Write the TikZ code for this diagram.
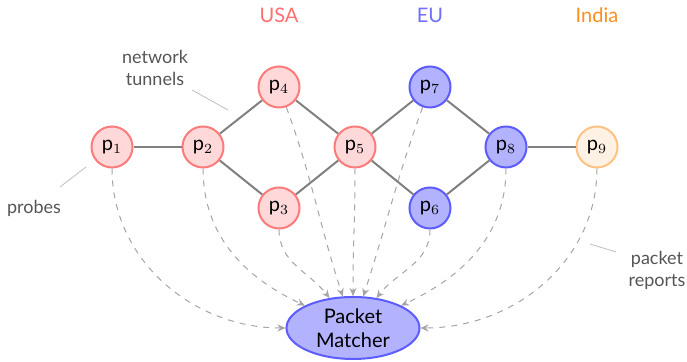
\documentclass[tikz,border=0pt]{standalone}
\usepackage{fontspec}
\setmainfont{Lato}
\usetikzlibrary{shapes.geometric,arrows.meta}
\definecolor{rfill}{RGB}{255,217,217}
\definecolor{rdraw}{RGB}{255,122,122}
\definecolor{bfill}{RGB}{178,178,255}
\definecolor{bdraw}{RGB}{92,92,255}
\definecolor{ofill}{RGB}{255,242,228}
\definecolor{odraw}{RGB}{255,194,130}
\definecolor{usac}{RGB}{255,112,112}
\definecolor{euc}{RGB}{112,112,255}
\definecolor{indc}{RGB}{255,140,30}
\definecolor{notec}{RGB}{85,85,85}
\definecolor{leadc}{RGB}{190,190,190}
\definecolor{edgec}{RGB}{128,128,128}
\definecolor{repc}{RGB}{165,165,165}
\tikzset{
  router/.style={circle,line width=1pt,minimum size=20.5pt,inner sep=0pt,font=\fontsize{10}{12}\selectfont},
  usa/.style={router,fill=rfill,draw=rdraw},
  eu/.style={router,fill=bfill,draw=bdraw},
  ind/.style={router,fill=ofill,draw=odraw},
  region/.style={font=\fontsize{10}{12}\selectfont},
  note/.style={text=notec,align=center,font=\fontsize{9}{11}\selectfont},
  leader/.style={draw=leadc,line width=0.4pt},
  tunnel/.style={draw=edgec,line width=1pt},
  report/.style={draw=repc,line width=0.5pt,dashed,-{Stealth[length=4pt,width=3.5pt]}},
}
\begin{document}
\begin{tikzpicture}[x=0.5pt,y=0.5pt]
\useasboundingbox (0,0) rectangle (687,362);
% region labels
\node[region,text=usac] (lusa) at (279,347) {USA};
\node[region,text=euc] (leu) at (430,347) {EU};
\node[region,text=indc] (lind) at (597,347) {India};
% routers
\node[usa] (p1) at (112,215) {p$_1$};
\node[usa] (p2) at (203,215) {p$_2$};
\node[usa] (p4) at (279,275) {p$_4$};
\node[usa] (p3) at (279,154) {p$_3$};
\node[usa] (p5) at (355,215) {p$_5$};
\node[eu] (p7) at (430,275) {p$_7$};
\node[eu] (p6) at (430,154) {p$_6$};
\node[eu] (p8) at (506,215) {p$_8$};
\node[ind] (p9) at (597,215) {p$_9$};
% packet matcher
\node[ellipse,fill=bfill,draw=bdraw,line width=1pt,minimum width=66.5pt,minimum height=31pt,inner sep=0pt,align=center,font=\fontsize{10}{12}\selectfont] (pm) at (353,34) {Packet\\Matcher};
% tunnels
\draw[tunnel] (p1) -- (p2);
\draw[tunnel] (p2) -- (p4);
\draw[tunnel] (p2) -- (p3);
\draw[tunnel] (p4) -- (p5);
\draw[tunnel] (p3) -- (p5);
\draw[tunnel] (p5) -- (p7);
\draw[tunnel] (p5) -- (p6);
\draw[tunnel] (p7) -- (p8);
\draw[tunnel] (p6) -- (p8);
\draw[tunnel] (p8) -- (p9);
% reports
\draw[report] (p1) to[out=-90,in=180] (pm);
\draw[report] (p2) to[out=-90,in=155] (pm);
\draw[report] (p3) to[out=-90,in=128] (pm);
\draw[report] (p4) to[out=-70,in=108] (pm);
\draw[report] (p5) to[out=-90,in=90] (pm);
\draw[report] (p7) to[out=-110,in=72] (pm);
\draw[report] (p6) to[out=-90,in=52] (pm);
\draw[report] (p8) to[out=-90,in=25] (pm);
\draw[report] (p9) to[out=-90,in=0] (pm);
% annotations
\node[note] (ntun) at (155,294) {network\\tunnels};
\coordinate (ntunA) at (192,272);
\coordinate (ntunB) at (228,252);
\draw[leader] (ntunA) -- (ntunB);
\node[note] (nprobe) at (34,154) {probes};
\coordinate (nprobeA) at (60,175);
\coordinate (nprobeB) at (86,195);
\draw[leader] (nprobeA) -- (nprobeB);
\node[note] (nrep) at (657,92) {packet\\reports};
\coordinate (nrepA) at (616,110);
\coordinate (nrepB) at (590,118);
\draw[leader] (nrepA) -- (nrepB);
\end{tikzpicture}
\end{document}
